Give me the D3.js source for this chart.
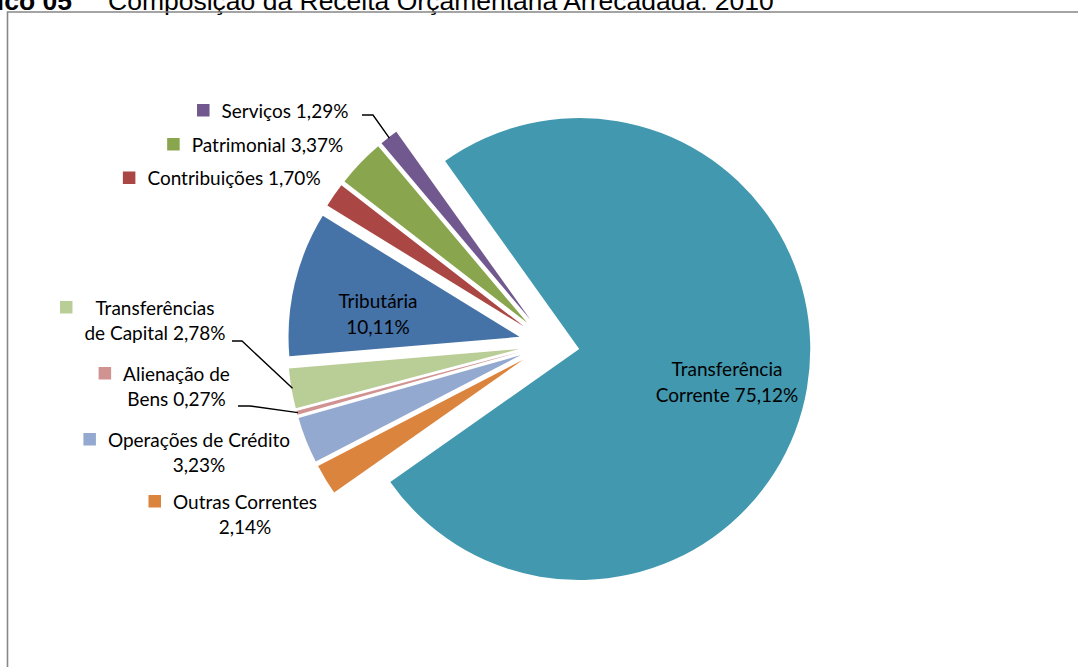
<!DOCTYPE html>
<html lang="pt">
<head>
    <meta charset="UTF-8">
    <title>Composição da Receita Orçamentária Arrecadada: 2010</title>
    <script src="https://cdn.jsdelivr.net/npm/d3@7/dist/d3.min.js"></script>
    <style>
        body { margin: 0; background: #fff; }
        svg text { font-family: Lato, "Open Sans", sans-serif; fill: #000; }
    </style>
</head>
<body>
    <div class="pie-container"></div>
<script>
    // dados (ordem da planilha, sentido horário a partir de Tributária)
    const categories = ['Tributária', 'Contribuições', 'Patrimonial', 'Serviços', 'Transferência Corrente',
        'Outras Correntes', 'Operações de Crédito', 'Alienação de Bens', 'Transferências de Capital']
    const percents = [10.11, 1.70, 3.37, 1.29, 75.12, 2.14, 3.23, 0.27, 2.78]
    const colors = ['#4572A7', '#AA4643', '#89A54E', '#71588F', '#4198AF', '#DB843D', '#93A9CF', '#D19392', '#B9CD96']
    // quebras de linha dos rótulos (como no gráfico original)
    const labelNames = ['Tributária\n', 'Contribuições', 'Patrimonial', 'Serviços', 'Transferência\nCorrente',
        'Outras Correntes\n', 'Operações de Crédito\n', 'Alienação de\nBens', 'Transferências\nde Capital']

    const width = 1078
    const height = 667
    const center = { x: 549.2, y: 343.9 }
    const radius = 231
    const explode = 30.5
    const lineH = 25.5

    // posição de cada rótulo: centro do bloco, linha de base da 1a linha, marcador e linha guia
    const labelLayout = [
        { x: 378, y: 308, key: false },
        { x: 234, y: 185, key: true },
        { x: 267.5, y: 151.5, key: true },
        { x: 285, y: 117.5, key: true, leader: [[362, 115], [373, 115]] },
        { x: 727, y: 376, key: false },
        { x: 245, y: 508.5, key: true },
        { x: 199, y: 446.5, key: true },
        { x: 176.5, y: 380.5, key: true, leader: [[238, 406], [250, 406]] },
        { x: 155, y: 314.5, key: true, leader: [[232, 341], [242, 341]] }
    ]

    const fmt = d3.formatLocale({ decimal: ',', thousands: '.', grouping: [3], currency: ['R$', ''] }).format('.2f')

    const svg = d3.select('.pie-container')
        .append('svg')
        .attr('width', width)
        .attr('height', height)

    // título (cortado no topo, como na imagem)
    svg.append('text')
        .attr('x', 72).attr('y', 9.5)
        .attr('text-anchor', 'end')
        .style('font-family', 'Liberation Sans, Arial, sans-serif')
        .style('font-weight', 'bold')
        .style('font-size', '26.5px')
        .text('Gráfico 05')
    svg.append('text')
        .attr('x', 108).attr('y', 9.5)
        .style('font-family', 'Liberation Sans, Arial, sans-serif')
        .style('font-size', '26.5px')
        .text('Composição da Receita Orçamentária Arrecadada: 2010')

    // moldura da área do gráfico
    svg.append('path')
        .attr('d', `M7.5,${height + 5} V12 H${width + 5}`)
        .attr('fill', 'none')
        .attr('stroke', '#878787')
        .attr('stroke-width', 1.6)

    const data = categories.map((c, i) => ({ name: c, value: percents[i], color: colors[i], idx: i }))

    const startDeg = -94.8
    const pie = d3.pie()
        .sort(null)
        .value((d) => d.value)
        .startAngle(startDeg * Math.PI / 180)
        .endAngle((startDeg + 360) * Math.PI / 180)
    const arcs = pie(data)
    const arc = d3.arc().innerRadius(0).outerRadius(radius)

    function dirOf(a) {
        const m = (a.startAngle + a.endAngle) / 2
        return [Math.sin(m), -Math.cos(m)]
    }

    const g = svg.append('g').attr('transform', `translate(${center.x}, ${center.y})`)
    g.selectAll('.slice')
        .data(arcs)
        .enter()
        .append('path')
        .attr('class', 'slice')
        .attr('d', arc)
        .attr('fill', (d) => d.data.color)
        .attr('transform', (d) => {
            const [dx, dy] = dirOf(d)
            return `translate(${dx * explode}, ${dy * explode})`
        })

    // rótulos
    arcs.forEach((a) => {
        const i = a.data.idx
        const lay = labelLayout[i]
        const name = labelNames[i]
        const full = name.endsWith('\n') ? name + fmt(a.data.value) + '%' : name + ' ' + fmt(a.data.value) + '%'
        const lines = full.split('\n')

        const t = svg.append('text')
            .attr('x', lay.x)
            .attr('y', lay.y)
            .attr('text-anchor', 'middle')
            .style('font-size', '19px')
        lines.forEach((ln, k) => {
            t.append('tspan')
                .attr('x', lay.x)
                .attr('dy', k === 0 ? 0 : lineH)
                .text(ln)
        })

        if (lay.key) {
            const bw = t.node().getBBox().width
            const left = lay.x - bw / 2
            svg.append('rect')
                .attr('x', left - 12 - 12.5)
                .attr('y', lay.y - 7 - 6.5)
                .attr('width', 12.5)
                .attr('height', 12.5)
                .attr('fill', a.data.color)
        }

        if (lay.leader) {
            const [dx, dy] = dirOf(a)
            const end = [center.x + dx * (explode + radius - 1), center.y + dy * (explode + radius - 1)]
            svg.append('path')
                .attr('d', d3.line()(lay.leader.concat([end])))
                .attr('fill', 'none')
                .attr('stroke', '#000')
                .attr('stroke-width', 1.4)
        }
    })
</script>
</body>
</html>
